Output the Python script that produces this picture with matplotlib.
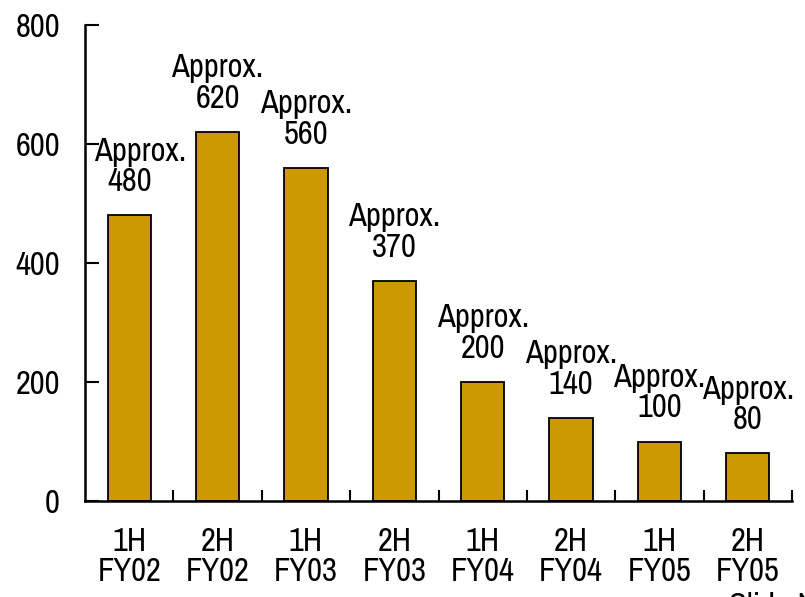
import matplotlib
matplotlib.use("Agg")
import matplotlib.pyplot as plt
import numpy as np

categories = ["1H\nFY02", "2H\nFY02", "1H\nFY03", "2H\nFY03",
              "1H\nFY04", "2H\nFY04", "1H\nFY05", "2H\nFY05"]
values = [480, 620, 560, 370, 200, 140, 100, 80]
yticks = [0, 200, 400, 600, 800]

plt.rcParams["font.family"] = ["Archivo Narrow", "PT Sans Narrow", "DejaVu Sans"]
FS = 23.5

fig = plt.figure(figsize=(8.05, 5.97), dpi=100)
ax = fig.add_axes([85/805, 96/597, 707/805, 476/597])

x = np.arange(len(categories))
ax.bar(x, values, width=0.49, color="#CC9900", edgecolor="black", linewidth=1.3, zorder=2)

ax.set_xlim(-0.5, len(categories) - 0.5)
ax.set_ylim(0, 800)
ax.set_yticks(yticks)
ax.set_xticks(x)
ax.set_xticklabels(categories, linespacing=0.98)
ax.set_xticks(np.arange(len(categories)) + 0.5, minor=True)

ax.tick_params(axis="y", direction="in", length=10, width=1.5, labelsize=FS, pad=18)
ax.tick_params(axis="x", which="major", length=0, labelsize=FS, pad=19)
ax.tick_params(axis="x", which="minor", direction="in", length=8, width=1.5)

for s in ["top", "right"]:
    ax.spines[s].set_visible(False)
for s in ["left", "bottom"]:
    ax.spines[s].set_linewidth(1.8)

for i, v in enumerate(values):
    dx = 8 if i == 0 else 0
    ax.annotate("Approx.", (i, v), xytext=(dx, 35), textcoords="offset points",
                ha="center", va="bottom", fontsize=FS)
    ax.annotate(str(v), (i, v), xytext=(0, 13), textcoords="offset points",
                ha="center", va="bottom", fontsize=FS)

fig.text(729/805, 0.008, "Slide N", fontsize=FS, ha="left", va="top")

fig.savefig("out.png", dpi=100)
